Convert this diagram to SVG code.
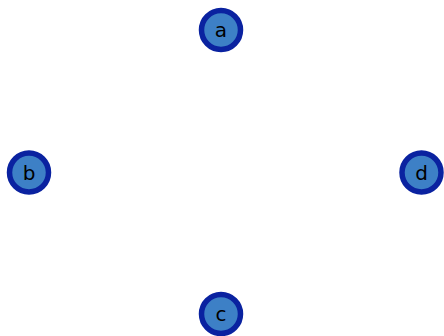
<svg xmlns="http://www.w3.org/2000/svg" width="444" height="336" viewBox="0 0 444 336">
<style>
.n circle{fill:#3d80c6;stroke:#0a22a0;stroke-width:5.5}
.n text{font-family:"DejaVu Sans",sans-serif;font-size:20px;fill:#000;text-anchor:middle;dominant-baseline:central}
</style>
<rect width="444" height="336" fill="#fff"/>
<g id="edges"></g>
<g id="a" class="n"><circle cx="221" cy="30" r="19.5"/><text x="221" y="30">a</text></g>
<g id="b" class="n"><circle cx="29" cy="172.5" r="19.5"/><text x="29" y="172.5">b</text></g>
<g id="d" class="n"><circle cx="421.5" cy="172.5" r="19.5"/><text x="421.5" y="172.5">d</text></g>
<g id="c" class="n"><circle cx="221" cy="314" r="19.5"/><text x="221" y="314">c</text></g>
</svg>
